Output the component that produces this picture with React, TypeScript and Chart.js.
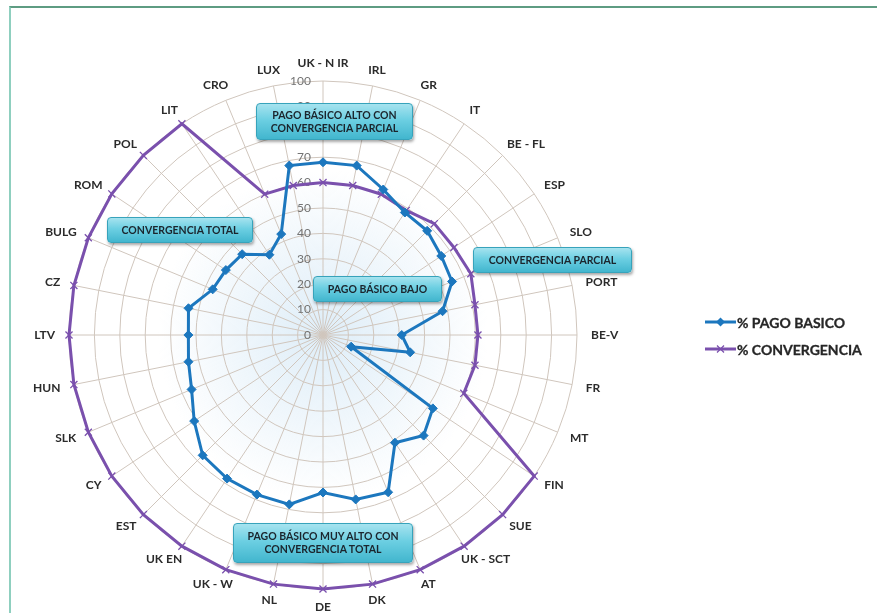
import React, { useEffect, useRef } from "react";
import { Chart, registerables } from "chart.js";

Chart.register(...registerables);

const categories = [
  "UK - N IR", "IRL", "GR", "IT", "BE - FL", "ESP", "SLO", "PORT", "BE-V", "FR", "MT",
  "FIN", "SUE", "UK - SCT", "AT", "DK", "DE", "NL", "UK - W", "UK EN", "EST", "CY",
  "SLK", "HUN", "LTV", "CZ", "BULG", "ROM", "POL", "LIT", "CRO", "LUX",
];

const pagoBasico = [
  68, 68, 62, 58, 58, 56, 55, 48, 31, 35, 12,
  52, 56, 51, 67, 66, 62, 68, 68, 68, 67, 61,
  56, 54, 53, 54, 47, 46, 45, 38, 43, 68,
];

const convergencia = [
  60, 60, 60, 59, 62, 62, 63, 61, 61, 61, 60,
  100, 100, 100, 100, 100, 100, 100, 100, 100, 100, 100,
  100, 100, 100, 100, 100, 100, 100, 100, 60, 60,
];

const tickValues = [0, 10, 20, 30, 40, 50, 60, 70, 80, 90, 100];

const seriesNames = ["% PAGO BASICO", "% CONVERGENCIA"];

const annotations = [
  { lines: ["PAGO BÁSICO ALTO CON", "CONVERGENCIA PARCIAL"], left: 256, top: 103, width: 157, height: 37 },
  { lines: ["CONVERGENCIA TOTAL"], left: 107, top: 217, width: 146, height: 26 },
  { lines: ["PAGO BÁSICO BAJO"], left: 313, top: 276, width: 129, height: 26 },
  { lines: ["CONVERGENCIA PARCIAL"], left: 473, top: 247, width: 159, height: 26 },
  { lines: ["PAGO BÁSICO MUY ALTO CON", "CONVERGENCIA TOTAL"], left: 233, top: 523, width: 180, height: 40 },
];

const BLUE = "#1c77be";
const PURPLE = "#7a50ad";
const GRID = "#d0c6bd";
const FONT = "Lato, 'Open Sans', 'DejaVu Sans', sans-serif";

const drawPlugin = {
  id: "customText",
  beforeDraw(chart: any) {
    const s = chart.scales.r;
    const ctx = chart.ctx;
    const g = ctx.createRadialGradient(s.xCenter, s.yCenter, 0, s.xCenter, s.yCenter, s.drawingArea * 0.65);
    g.addColorStop(0, "rgba(200,225,243,0.6)");
    g.addColorStop(1, "rgba(200,225,243,0)");
    ctx.save();
    ctx.fillStyle = g;
    ctx.beginPath();
    ctx.arc(s.xCenter, s.yCenter, s.drawingArea, 0, Math.PI * 2);
    ctx.fill();
    ctx.restore();
  },
  beforeDatasetsDraw(chart: any) {
    const s = chart.scales.r;
    const ctx = chart.ctx;
    ctx.save();
    // radial tick labels, right-aligned just left of the vertical axis
    ctx.font = "12px " + FONT;
    ctx.fillStyle = "#737373";
    ctx.textAlign = "right";
    ctx.textBaseline = "middle";
    tickValues.forEach((v) => {
      const d = s.getDistanceFromCenterForValue(v);
      ctx.fillText(String(v), s.xCenter - 12, s.yCenter - d);
    });
    // category labels, centred around the outer ring
    ctx.font = "bold 12px " + FONT;
    ctx.fillStyle = "#2b2b2b";
    ctx.textAlign = "center";
    ctx.textBaseline = "middle";
    const R = s.drawingArea;
    categories.forEach((label, i) => {
      const a = s.getIndexAngle(i);
      const sin = Math.sin(a);
      const cos = Math.cos(a);
      const extra = Math.abs(cos) > 0.999 ? 2 : 0;
      const p = s.getPointPosition(i, R + 11 + extra);
      const w = ctx.measureText(label).width;
      const x = p.x + sin * (w / 2 + 3);
      const y = p.y - cos * 5;
      ctx.fillText(label, x, y);
    });
    ctx.restore();
  },
};

function RadarChart() {
  const ref = useRef<HTMLCanvasElement>(null);
  useEffect(() => {
    const canvas = ref.current;
    if (!canvas) return;
    const chart = new Chart(canvas, {
      type: "radar",
      data: {
        labels: categories,
        datasets: [
          {
            label: seriesNames[0],
            data: pagoBasico,
            borderColor: BLUE,
            backgroundColor: BLUE,
            borderWidth: 3,
            fill: false,
            tension: 0,
            pointStyle: "rectRot",
            pointRadius: 4.5,
            pointBorderWidth: 1,
            pointBackgroundColor: BLUE,
            pointBorderColor: BLUE,
          },
          {
            label: seriesNames[1],
            data: convergencia,
            borderColor: PURPLE,
            backgroundColor: PURPLE,
            borderWidth: 3,
            fill: false,
            tension: 0,
            pointStyle: "crossRot",
            pointRadius: 5,
            pointBorderWidth: 1.3,
            pointBackgroundColor: PURPLE,
            pointBorderColor: PURPLE,
          },
        ],
      },
      options: {
        responsive: false,
        animation: false,
        devicePixelRatio: 1,
        layout: { padding: { top: 81, left: 0, right: 231, bottom: 24 } },
        plugins: {
          legend: { display: false },
          tooltip: { enabled: false },
        },
        scales: {
          r: {
            min: 0,
            max: 100,
            ticks: { stepSize: 10, display: false },
            grid: { circular: true, color: GRID, lineWidth: 1 },
            angleLines: { color: GRID, lineWidth: 1 },
            pointLabels: { display: false },
          },
        },
      },
      plugins: [drawPlugin],
    });
    return () => chart.destroy();
  }, []);
  return (
    <canvas
      ref={ref}
      width={877}
      height={613}
      style={{ position: "absolute", left: 0, top: 0, width: 877, height: 613 }}
    />
  );
}

function Annotation({ a }: { a: (typeof annotations)[number] }) {
  return (
    <div
      style={{
        position: "absolute",
        left: a.left,
        top: a.top,
        width: a.width,
        height: a.height,
        boxSizing: "border-box",
        borderRadius: 4,
        border: "1px solid #37a3bb",
        background: "linear-gradient(to bottom, #a6e3ef 0%, #6ccfe2 45%, #42b6ce 100%)",
        boxShadow: "1px 2px 3px rgba(0,0,0,0.35)",
        display: "flex",
        flexDirection: "column",
        justifyContent: "center",
        alignItems: "center",
        fontFamily: FONT,
        fontWeight: "bold",
        fontSize: 10.5,
        lineHeight: "13px",
        color: "#1b252d",
        whiteSpace: "nowrap",
      }}
    >
      {a.lines.map((l, i) => (
        <div key={i}>{l}</div>
      ))}
    </div>
  );
}

function LegendItem({ color, label, marker, top }: { color: string; label: string; marker: string; top: number }) {
  return (
    <div style={{ position: "absolute", left: 705, top: top - 9, height: 18, display: "flex", alignItems: "center" }}>
      <svg width={31} height={18} style={{ display: "block" }}>
        <line x1={0} y1={9} x2={31} y2={9} stroke={color} strokeWidth={3} />
        {marker === "diamond" ? (
          <polygon points="15.5,4.5 20,9 15.5,13.5 11,9" fill={color} />
        ) : (
          <g stroke={color} strokeWidth={1.3}>
            <line x1={12} y1={5.5} x2={19} y2={12.5} />
            <line x1={19} y1={5.5} x2={12} y2={12.5} />
          </g>
        )}
      </svg>
      <span
        style={{
          marginLeft: 1,
          fontFamily: FONT,
          fontWeight: "bold",
          fontSize: 14,
          color: "#262626",
          whiteSpace: "nowrap",
          WebkitTextStroke: "0.3px #262626",
        }}
      >
        {label}
      </span>
    </div>
  );
}

export default function App() {
  return (
    <div
      style={{
        position: "absolute",
        left: 0,
        top: 0,
        width: 877,
        height: 613,
        overflow: "hidden",
        background: "#ffffff",
      }}
    >
      <RadarChart />
      <div
        style={{
          position: "absolute",
          left: 9,
          top: 6,
          width: 900,
          height: 700,
          borderLeft: "2px solid #8fcfbf",
          borderTop: "2px solid #5e9c82",
          pointerEvents: "none",
        }}
      />
      {annotations.map((a, i) => (
        <Annotation key={i} a={a} />
      ))}
      <LegendItem color={BLUE} label={seriesNames[0]} marker="diamond" top={322} />
      <LegendItem color={PURPLE} label={seriesNames[1]} marker="star" top={349} />
    </div>
  );
}
